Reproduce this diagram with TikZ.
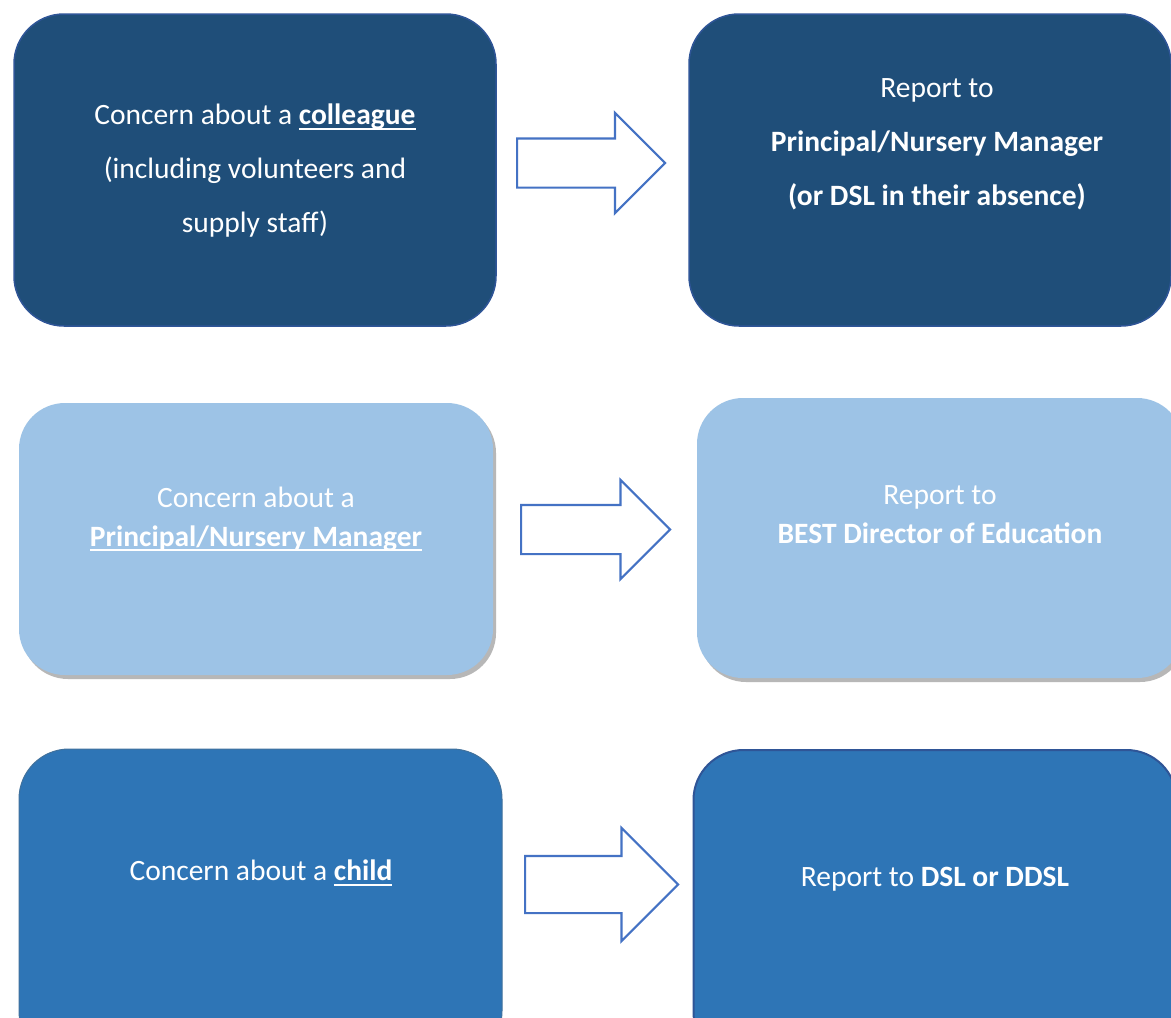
\documentclass[tikz,border=0pt]{standalone}
\usepackage{fontspec}
\setmainfont{Carlito}
\usetikzlibrary{positioning,shapes.arrows,shadows}
\definecolor{navy}{HTML}{1F4E79}
\definecolor{navyline}{HTML}{2F5597}
\definecolor{pale}{HTML}{9DC3E6}
\definecolor{midblue}{HTML}{2E75B6}
\definecolor{midline}{HTML}{41719C}
\definecolor{arrowline}{HTML}{4472C4}
\newlength{\ulwd}
\newcommand{\ulbold}[1]{\settowidth{\ulwd}{\textbf{#1}}%
    \textbf{\rlap{\rule[-5pt]{\ulwd}{2pt}}#1}}
\tikzset{
    darkbox/.style = {
        draw=navyline,
        fill=navy,
        shape=rectangle,
        rounded corners=50pt,
        minimum width=482pt,
        minimum height=312pt,
        line width=1.5pt
    },
    palebox/.style = {
        fill=pale,
        shape=rectangle,
        rounded corners=46pt,
        drop shadow={shadow xshift=3pt, shadow yshift=-4pt, fill=black!70, opacity=0.4}
    },
    midbox/.style = {
        draw=midline,
        fill=midblue,
        shape=rectangle,
        rounded corners=50pt,
        minimum width=483pt,
        minimum height=312pt,
        line width=1pt
    },
    fatarrow/.style = {
        draw=arrowline,
        fill=white,
        shape=single arrow,
        anchor=west,
        single arrow tip angle=90,
        single arrow head indent=0pt,
        line width=2.2pt
    },
    txt/.style = {
        text=white,
        align=center,
        inner sep=0pt,
        font=\fontsize{29.5}{54}\selectfont
    },
    txttight/.style = {
        txt,
        font=\fontsize{29.5}{39}\selectfont
    },
}

\begin{document}
\begin{tikzpicture}[x=1pt, y=-1pt]
                \useasboundingbox (0,0) rectangle (1171,1018);
                \clip (0,0) rectangle (1171,1018);
                \fill[white] (0,0) rectangle (1171,1018);

                % colleague
                \node[darkbox] (colleague) at (255,170) {};
                \node[darkbox] (principal) at (930,170) {};
                \node[fatarrow, minimum height=148pt, inner sep=23.5pt,
                single arrow head extend=25.5pt] (arra) at (516,163) {};
                \node[txt] (colleaguetxt) at (255,171)
                {Concern about a \ulbold{colleague}\\
                (including volunteers and\\ supply staff)};
                \node[txt] (principaltxt) at (937,144)
                {Report to\\ \textbf{Principal/Nursery Manager}\\
                \textbf{(or DSL in their absence)}};

                % principal
                \node[palebox, minimum width=474pt, minimum height=272pt] (head) at (256,539) {};
                \node[palebox, minimum width=486pt, minimum height=280pt] (best) at (940,538) {};
                \node[fatarrow, minimum height=149pt, inner sep=23.5pt,
                single arrow head extend=25pt] (arrb) at (520,529.5) {};
                \node[txttight] (headtxt) at (256,519)
                {Concern about a\\ \ulbold{Principal/Nursery Manager}};
                \node[txttight] (besttxt) at (940,515)
                {Report to\\ \textbf{BEST Director of Education}};

                % child
                \node[midbox] (child) at (260.5,905) {};
                \node[midbox, draw=navyline, line width=2pt] (dsl) at (935,906) {};
                \node[fatarrow, minimum height=153pt, inner sep=27.5pt,
                single arrow head extend=28pt] (arrc) at (524,884.5) {};
                \node[txt] (childtxt) at (261,873) {Concern about a \ulbold{child}};
                \node[txt] (dsltxt) at (935,879) {Report to \textbf{DSL or DDSL}};
            \end{tikzpicture}
\end{document}
